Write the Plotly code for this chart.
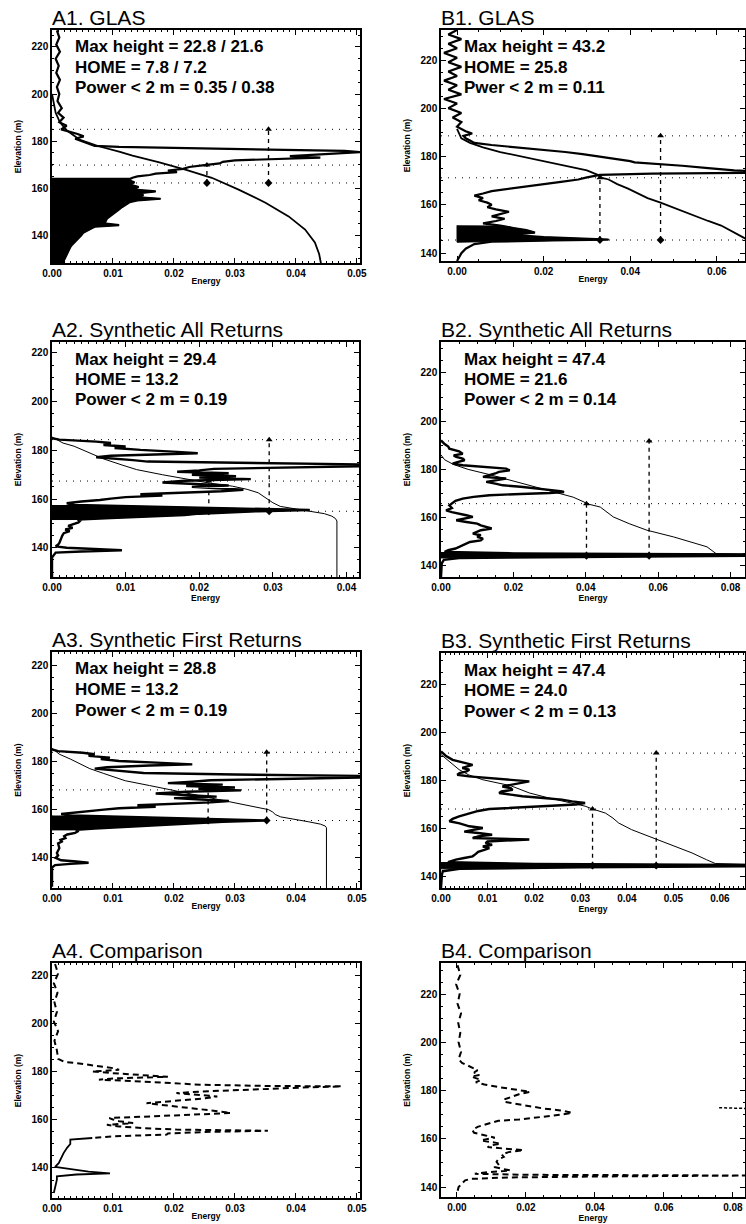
import plotly.graph_objects as go

W, H = 746, 1224

# ---------------- DATA (elevation m, energy) ----------------
A1_WAVE = [(227, 0.0008), (224, 0.0012), (221, 0.0007), (218, 0.0013), (215, 0.0006), (212, 0.0011),
           (209, 0.0007), (206, 0.0013), (203, 0.0008), (200, 0.0012), (197, 0.0009), (194, 0.0016),
           (192, 0.0010), (190, 0.0019), (188, 0.0012), (186.5, 0.0024), (185, 0.0015), (184, 0.0030),
           (183, 0.0042), (182, 0.0052), (181, 0.0038), (180, 0.0048), (179, 0.0060), (178, 0.0070),
           (177.5, 0.0110), (176.5, 0.0300), (175.8, 0.0480), (175.3, 0.0505), (174.8, 0.0470),
           (174.2, 0.0420), (173.6, 0.0390), (173.0, 0.0440), (172.4, 0.0360), (171.8, 0.0300),
           (171.2, 0.0280), (170.5, 0.0275), (169.8, 0.0250), (169.0, 0.0225), (168.2, 0.0215),
           (167.5, 0.0190), (166.8, 0.0205), (166.2, 0.0170), (165.6, 0.0160), (165.0, 0.0140),
           (164.4, 0.0132), (163.5, 0.0125), (162.5, 0.0135), (161.5, 0.0128), (160.5, 0.0142),
           (159.5, 0.0130), (158.6, 0.0170), (157.8, 0.0140), (157.0, 0.0150), (156.3, 0.0130),
           (155.5, 0.0178), (154.8, 0.0140), (154.0, 0.0127), (153.0, 0.0120), (152.0, 0.0115),
           (151.0, 0.0110), (150.0, 0.0105), (149.0, 0.0098), (148.0, 0.0095), (147.0, 0.0090),
           (146.0, 0.0088), (145.0, 0.0085), (144.3, 0.0110), (143.6, 0.0070), (143.0, 0.0065),
           (142.0, 0.0058), (141.0, 0.0051), (140.0, 0.0048), (139.0, 0.0044), (138.0, 0.0040),
           (137.0, 0.0036), (136.0, 0.0033), (135.0, 0.0030), (134.0, 0.0028), (133.0, 0.0026),
           (132.0, 0.0024), (131.0, 0.0022), (130.0, 0.0021), (129.0, 0.0019), (128.0, 0.0018)]
A1_CUM = [(200, 0.0), (192, 0.0006), (188, 0.0013), (184.6, 0.0024), (180.5, 0.0046), (177.7, 0.0078),
          (175.5, 0.0110), (173.8, 0.0132), (171.0, 0.0176), (167.8, 0.0220), (164.4, 0.0262),
          (159.4, 0.0306), (153.8, 0.0350), (148.0, 0.0388), (142.4, 0.0415), (136.9, 0.0431),
          (132.0, 0.0438), (128.0, 0.0441)]

B1_WAVE = [(232.5, 0.000), (230.6, -0.002), (228.7, 0.001), (226.8, -0.002), (224.9, 0.000),
           (223.0, -0.003), (221.0, 0.000), (219.1, -0.002), (217.2, 0.001), (215.3, -0.002),
           (213.4, 0.000), (211.5, -0.003), (209.6, 0.000), (207.7, -0.002), (205.8, 0.001),
           (203.9, -0.003), (202.0, 0.000), (200.1, -0.002), (198.1, 0.001), (196.2, -0.001),
           (194.3, 0.001), (192.4, 0.000), (190.5, 0.002), (189.6, 0.0035), (188.6, 0.0015),
           (187.6, 0.002), (186.7, 0.003), (185.7, 0.004), (184.8, 0.008), (183.8, 0.014),
           (182.9, 0.020), (181.9, 0.025), (181.0, 0.029), (180.0, 0.033), (179.1, 0.037),
           (178.1, 0.040), (177.6, 0.041), (177.1, 0.046), (176.2, 0.052), (175.2, 0.058),
           (174.3, 0.064), (173.8, 0.071), (173.3, 0.071), (172.9, 0.045), (172.4, 0.033),
           (171.4, 0.030), (170.5, 0.028), (169.5, 0.024), (168.6, 0.020), (167.6, 0.016),
           (166.7, 0.012), (165.7, 0.008), (164.7, 0.006), (163.8, 0.004), (162.8, 0.006),
           (161.9, 0.005), (160.9, 0.007), (160.0, 0.008), (159.0, 0.007), (158.1, 0.009),
           (157.1, 0.012), (156.1, 0.010), (155.2, 0.008), (154.2, 0.011), (153.3, 0.009),
           (152.3, 0.006), (151.4, 0.010), (150.4, 0.013), (149.5, 0.016), (148.5, 0.018),
           (147.6, 0.012), (146.6, 0.020), (146.0, 0.028), (145.6, 0.035), (145.2, 0.022),
           (144.7, 0.008), (143.7, 0.004), (142.8, 0.003), (141.8, 0.002), (139.9, 0.001),
           (136.7, 0.000)]
B1_CUM = [(191.5, 0.0), (187.6, 0.001), (185.7, 0.003), (183.8, 0.006), (181.9, 0.010), (180.0, 0.015),
          (178.1, 0.020), (176.2, 0.025), (174.3, 0.030), (172.4, 0.0325), (171.2, 0.0335),
          (170.5, 0.035), (168.6, 0.037), (166.7, 0.0395), (164.7, 0.042), (162.8, 0.044),
          (160.9, 0.047), (158.1, 0.051), (155.2, 0.055), (153.3, 0.058), (151.4, 0.061),
          (149.5, 0.063), (147.6, 0.065), (146.6, 0.066), (145.6, 0.067)]

A2_WAVE = [(185.0, 0.0000), (184.4, 0.0010), (183.6, 0.0060), (183.0, 0.0080), (182.2, 0.0070),
           (181.6, 0.0100), (181.0, 0.0085), (180.2, 0.0120), (179.4, 0.0170), (178.8, 0.0198),
           (178.3, 0.0140), (177.8, 0.0080), (177.2, 0.0060), (176.6, 0.0090), (176.0, 0.0110),
           (175.4, 0.0130), (174.8, 0.0250), (174.2, 0.0430), (173.6, 0.0440), (173.0, 0.0300),
           (172.4, 0.0220), (171.8, 0.0200), (171.2, 0.0170), (170.6, 0.0240), (170.0, 0.0190),
           (169.4, 0.0250), (168.8, 0.0200), (168.2, 0.0270), (167.5, 0.0180), (166.8, 0.0150),
           (166.2, 0.0200), (165.6, 0.0240), (165.0, 0.0190), (164.4, 0.0220), (163.8, 0.0260),
           (163.2, 0.0230), (162.6, 0.0180), (162.0, 0.0120), (161.4, 0.0150), (160.8, 0.0100),
           (160.2, 0.0080), (159.6, 0.0065), (159.0, 0.0040), (158.3, 0.0020), (157.6, 0.0030),
           (157.0, 0.0120), (156.5, 0.0220), (156.0, 0.0300), (155.5, 0.0350), (155.0, 0.0280),
           (154.5, 0.0240), (154.0, 0.0200), (153.4, 0.0180), (152.8, 0.0120), (152.2, 0.0080),
           (151.6, 0.0035), (151.0, 0.0038), (150.4, 0.0036), (149.7, 0.0030), (149.0, 0.0022),
           (148.2, 0.0028), (147.5, 0.0018), (146.8, 0.0024), (146.0, 0.0016), (145.0, 0.0014),
           (144.0, 0.0013), (143.0, 0.0012), (142.0, 0.0010), (141.2, 0.0008), (140.6, 0.0005),
           (140.0, 0.0020), (139.5, 0.0060), (139.0, 0.0095), (138.5, 0.0040), (138.0, 0.0005),
           (136.0, 0.0000), (128.0, 0.0000)]
A2_CUM = [(185.5, 0.0), (183.0, 0.0015), (181.7, 0.0030), (179.0, 0.0050), (176.5, 0.0070),
          (174.0, 0.0095), (172.1, 0.0115), (170.0, 0.0150), (168.0, 0.0185), (166.5, 0.0215),
          (165.3, 0.0245), (164.0, 0.0265), (162.6, 0.0280), (160.5, 0.0290), (158.5, 0.0300),
          (157.0, 0.0310), (156.0, 0.0330), (155.0, 0.0350), (154.0, 0.0370), (153.0, 0.0380),
          (152.0, 0.0385), (151.0, 0.0387), (128.0, 0.0387)]

A3_WAVE = [(185.0, 0.0000), (184.3, 0.0010), (183.6, 0.0050), (183.0, 0.0070), (182.3, 0.0060),
           (181.6, 0.0095), (181.0, 0.0080), (180.2, 0.0110), (179.4, 0.0180), (178.8, 0.0230),
           (178.3, 0.0160), (177.6, 0.0090), (177.0, 0.0070), (176.4, 0.0100), (175.8, 0.0120),
           (175.2, 0.0150), (174.6, 0.0300), (174.0, 0.0510), (173.4, 0.0520), (172.8, 0.0350),
           (172.2, 0.0260), (171.6, 0.0230), (171.0, 0.0190), (170.4, 0.0280), (169.8, 0.0220),
           (169.2, 0.0300), (168.6, 0.0240), (168.0, 0.0310), (167.4, 0.0220), (166.7, 0.0170),
           (166.0, 0.0230), (165.4, 0.0270), (164.8, 0.0200), (164.2, 0.0250), (163.6, 0.0290),
           (163.0, 0.0260), (162.4, 0.0200), (161.8, 0.0140), (161.2, 0.0170), (160.6, 0.0110),
           (160.0, 0.0085), (159.4, 0.0060), (158.8, 0.0035), (158.2, 0.0015), (157.6, 0.0030),
           (157.0, 0.0130), (156.5, 0.0230), (156.0, 0.0300), (155.5, 0.0350), (155.0, 0.0280),
           (154.5, 0.0240), (154.0, 0.0200), (153.4, 0.0170), (152.8, 0.0110), (152.2, 0.0070),
           (151.6, 0.0040), (151.0, 0.0042), (150.4, 0.0038), (149.7, 0.0025), (149.0, 0.0020),
           (148.2, 0.0022), (147.5, 0.0014), (146.8, 0.0016), (146.0, 0.0010), (144.0, 0.0012),
           (142.0, 0.0008), (141.0, 0.0010), (140.0, 0.0006), (139.0, 0.0015), (138.5, 0.0040),
           (138.0, 0.0060), (137.5, 0.0030), (137.0, 0.0005), (136.0, 0.0000), (128.0, 0.0000)]
A3_CUM = [(185.5, 0.0), (183.0, 0.0012), (181.0, 0.0030), (178.5, 0.0050), (177.0, 0.0062),
          (175.0, 0.0085), (172.0, 0.0120), (170.0, 0.0160), (168.0, 0.0200), (166.0, 0.0240),
          (164.0, 0.0275), (162.5, 0.0310), (161.0, 0.0340), (160.0, 0.0355), (159.0, 0.0362),
          (158.0, 0.0366), (157.0, 0.0375), (156.0, 0.0400), (155.0, 0.0420), (154.0, 0.0440),
          (153.2, 0.0448), (152.5, 0.0450), (128.0, 0.0450)]

B2_WAVE = [(192.0, 0.0000), (190.5, 0.0010), (189.5, 0.0020), (188.6, 0.0023), (187.5, 0.0050),
           (186.5, 0.0060), (185.8, 0.0035), (185.2, 0.0042), (184.5, 0.0060), (183.8, 0.0065),
           (183.0, 0.0045), (182.4, 0.0032), (181.7, 0.0060), (181.0, 0.0110), (180.3, 0.0180),
           (179.6, 0.0190), (179.0, 0.0160), (178.3, 0.0150), (177.6, 0.0130), (176.9, 0.0116),
           (176.2, 0.0180), (175.5, 0.0150), (174.8, 0.0125), (174.1, 0.0150), (173.4, 0.0171),
           (172.8, 0.0220), (172.2, 0.0260), (171.6, 0.0290), (171.0, 0.0330), (170.6, 0.0340),
           (170.2, 0.0300), (169.8, 0.0220), (169.3, 0.0134), (168.6, 0.0090), (167.9, 0.0060),
           (167.0, 0.0040), (166.0, 0.0030), (165.1, 0.0023), (164.0, 0.0030), (163.0, 0.0014),
           (162.3, 0.0030), (161.7, 0.0051), (161.0, 0.0070), (160.3, 0.0088), (159.6, 0.0060),
           (158.9, 0.0042), (158.2, 0.0070), (157.5, 0.0100), (156.8, 0.0110), (156.2, 0.0125),
           (155.5, 0.0140), (154.8, 0.0110), (154.1, 0.0100), (153.4, 0.0088), (152.7, 0.0110),
           (152.0, 0.0100), (151.3, 0.0116), (150.6, 0.0110), (149.9, 0.0080), (149.2, 0.0070),
           (148.6, 0.0060), (147.9, 0.0050), (147.2, 0.0040), (146.5, 0.0020), (145.8, 0.0010),
           (145.2, 0.0200), (144.7, 0.0900), (144.3, 0.0900), (143.8, 0.0300), (143.3, 0.0050),
           (142.5, 0.0008), (141.0, 0.0002), (135.4, 0.0000)]
B2_CUM = [(186.0, 0.0), (184.0, 0.0010), (182.0, 0.0035), (180.0, 0.0075), (178.0, 0.0130),
          (176.0, 0.0180), (174.0, 0.0230), (172.0, 0.0280), (170.2, 0.0330), (168.5, 0.0365),
          (166.5, 0.0395), (165.8, 0.0402), (164.4, 0.0440), (162.0, 0.0460), (160.3, 0.0476),
          (157.5, 0.0520), (154.8, 0.0569), (152.0, 0.0643), (147.9, 0.0735), (145.1, 0.0760),
          (144.6, 0.0900)]

B3_WAVE = [(192.3, 0.0000), (190.5, 0.0010), (188.8, 0.0025), (187.5, 0.0050), (186.7, 0.0068),
           (186.0, 0.0055), (185.4, 0.0046), (184.7, 0.0061), (184.0, 0.0055), (183.3, 0.0040),
           (182.6, 0.0035), (181.9, 0.0060), (181.2, 0.0110), (180.5, 0.0160), (179.8, 0.0190),
           (179.1, 0.0170), (178.4, 0.0150), (177.7, 0.0132), (177.0, 0.0150), (176.3, 0.0154),
           (175.6, 0.0130), (175.0, 0.0125), (174.3, 0.0150), (173.6, 0.0175), (172.9, 0.0220),
           (172.2, 0.0260), (171.5, 0.0282), (170.8, 0.0310), (170.2, 0.0290), (169.6, 0.0220),
           (168.9, 0.0140), (168.3, 0.0104), (167.5, 0.0080), (166.5, 0.0060), (165.2, 0.0039),
           (164.2, 0.0025), (163.2, 0.0018), (162.3, 0.0040), (161.1, 0.0061), (160.4, 0.0090),
           (159.7, 0.0068), (158.9, 0.0050), (158.3, 0.0080), (157.6, 0.0110), (156.9, 0.0080),
           (156.2, 0.0068), (155.6, 0.0190), (154.8, 0.0100), (154.1, 0.0096), (153.4, 0.0110),
           (152.7, 0.0090), (152.0, 0.0104), (151.4, 0.0095), (150.5, 0.0080), (149.6, 0.0075),
           (148.6, 0.0068), (147.9, 0.0050), (147.2, 0.0032), (146.2, 0.0015), (145.4, 0.0200),
           (145.0, 0.0700), (144.5, 0.0700), (144.0, 0.0300), (143.4, 0.0040), (142.4, 0.0004),
           (141.0, 0.0002), (135.4, 0.0000)]
B3_CUM = [(191.0, 0.0), (188.5, 0.0015), (186.0, 0.0030), (184.7, 0.0039), (182.5, 0.0060),
          (180.5, 0.0090), (178.0, 0.0150), (175.0, 0.0190), (173.0, 0.0230), (170.8, 0.0285),
          (169.5, 0.0310), (168.3, 0.0326), (166.6, 0.0354), (164.5, 0.0370), (162.5, 0.0382),
          (159.7, 0.0410), (157.5, 0.0440), (155.5, 0.0468), (153.0, 0.0500), (150.0, 0.0540),
          (147.2, 0.0571), (145.6, 0.0590), (145.0, 0.0700)]

A4_DIFF = [(225, 0.0005), (221, 0.0010), (217, 0.0003), (213, 0.0009), (209, 0.0004), (205, 0.0008),
           (201, 0.0003), (197, 0.0010), (193, 0.0004), (189, 0.0008), (185.5, 0.0010), (184.2, 0.0020),
           (183.7, 0.0040), (182.6, 0.0070), (181.6, 0.0100), (180.9, 0.0110), (180.2, 0.0066),
           (179.5, 0.0100), (178.8, 0.0150), (178.0, 0.0190), (177.3, 0.0100), (176.8, 0.0077),
           (176.0, 0.0150), (175.3, 0.0200), (174.7, 0.0243), (174.2, 0.0350), (174.0, 0.0475),
           (173.6, 0.0420), (173.0, 0.0354), (172.4, 0.0280), (171.8, 0.0240), (171.2, 0.0204),
           (170.5, 0.0240), (169.8, 0.0271), (169.0, 0.0250), (168.3, 0.0220), (167.5, 0.0180),
           (167.0, 0.0155), (166.0, 0.0190), (165.0, 0.0230), (164.0, 0.0260), (162.9, 0.0293),
           (162.0, 0.0200), (161.4, 0.0150), (160.8, 0.0094), (160.2, 0.0100), (159.5, 0.0110),
           (158.7, 0.0133), (158.0, 0.0090), (157.3, 0.0110), (156.6, 0.0150), (156.0, 0.0204),
           (155.5, 0.0354), (155.0, 0.0250), (154.4, 0.0190), (153.9, 0.0188), (153.2, 0.0100),
           (152.5, 0.0066), (151.8, 0.0030), (150.0, 0.0030), (148.5, 0.0025), (146.2, 0.0019),
           (144.0, 0.0015), (142.0, 0.0011), (140.5, 0.0005), (139.5, 0.0030), (138.5, 0.0060),
           (137.8, 0.0095), (137.3, 0.0040), (136.5, 0.0008), (135.1, 0.0008), (129.6, 0.0003)]

B4_DIFF = [(232, 0.0002), (228, 0.0010), (224, -0.0002), (220, 0.0008), (216, 0.0002), (212, 0.0012),
           (208, 0.0004), (204, 0.0010), (200, 0.0005), (196, 0.0012), (193, 0.0005), (191.5, 0.0015),
           (190.5, 0.0030), (189.5, 0.0045), (188.5, 0.0060), (187.5, 0.0050), (186.5, 0.0065),
           (185.8, 0.0042), (185.0, 0.0060), (184.4, 0.0070), (183.5, 0.0055), (182.5, 0.0080),
           (181.5, 0.0120), (180.5, 0.0170), (179.5, 0.0212), (178.5, 0.0180), (177.4, 0.0155),
           (176.5, 0.0140), (175.4, 0.0136), (174.5, 0.0170), (173.6, 0.0210), (172.6, 0.0250),
           (171.8, 0.0300), (170.8, 0.0334), (170.0, 0.0300), (169.0, 0.0240), (168.0, 0.0180),
           (167.5, 0.0120), (166.0, 0.0080), (165.0, 0.0060), (163.6, 0.0045), (162.5, 0.0050),
           (161.5, 0.0080), (160.5, 0.0110), (159.4, 0.0070), (158.5, 0.0100), (158.0, 0.0127),
           (157.3, 0.0100), (156.6, 0.0089), (155.8, 0.0150), (155.3, 0.0193), (154.5, 0.0150),
           (153.5, 0.0130), (152.5, 0.0136), (151.5, 0.0120), (150.5, 0.0115), (149.5, 0.0120),
           (148.3, 0.0108), (147.5, 0.0130), (146.9, 0.0155), (146.2, 0.0090), (145.5, 0.0052),
           (145.1, 0.0200), (144.8, 0.0850), (144.4, 0.0400), (144.0, 0.0150), (143.4, 0.0040),
           (142.8, 0.0024), (141.5, 0.0015), (140.0, 0.0005), (137.2, 0.0000)]
B4_GLAS_PEAK = [(172.9, 0.0760), (172.7, 0.0800), (172.6, 0.0840)]

# reference elevations: (top of canopy, HOME, ground)
A1_LEVELS = [185.0, 169.8, 162.2]
B1_LEVELS = [188.6, 171.2, 145.4]
A2_LEVELS = [184.4, 167.4, 155.0]
B2_LEVELS = [191.8, 165.8, 144.2]
A3_LEVELS = [183.8, 168.2, 155.5]
B3_LEVELS = [191.6, 168.3, 144.7]
# energy positions of vertical markers (HOME line, max-height line)
A1_MARK_X = [0.0254, 0.0355]
B1_MARK_X = [0.0330, 0.0470]
A2_MARK_X = [0.0213, 0.0295]
B2_MARK_X = [0.0402, 0.0575]
A3_MARK_X = [0.0256, 0.0352]
B3_MARK_X = [0.0326, 0.0463]

TITLES = ["A1. GLAS", "B1. GLAS", "A2. Synthetic All Returns", "B2. Synthetic All Returns",
          "A3. Synthetic First Returns", "B3. Synthetic First Returns", "A4. Comparison", "B4. Comparison"]
STATS = {
    1: ["Max height = 22.8 / 21.6", "HOME = 7.8 / 7.2", "Power < 2 m = 0.35 / 0.38"],
    2: ["Max height = 43.2", "HOME = 25.8", "Pwer < 2 m = 0.11"],
    3: ["Max height = 29.4", "HOME = 13.2", "Power < 2 m = 0.19"],
    4: ["Max height = 47.4", "HOME = 21.6", "Power < 2 m = 0.14"],
    5: ["Max height = 28.8", "HOME = 13.2", "Power < 2 m = 0.19"],
    6: ["Max height = 47.4", "HOME = 24.0", "Power < 2 m = 0.13"],
}

# ---------------- LAYOUT GEOMETRY ----------------
PANELS = {
    1: dict(box=(52, 30, 360, 263), xr=[0, 0.0505], yr=[128.2, 227.2], dx=0.01, mx=0.001),
    2: dict(box=(441, 30, 745, 261), xr=[-0.0037, 0.0665], yr=[136.7, 232.5], dx=0.02, mx=0.005),
    3: dict(box=(52, 342, 359, 577), xr=[0, 0.0417], yr=[128.0, 224.5], dx=0.01, mx=0.001),
    4: dict(box=(441, 342, 745, 577), xr=[0, 0.084], yr=[135.4, 232.8], dx=0.02, mx=0.005),
    5: dict(box=(52, 652, 360, 888), xr=[0, 0.0505], yr=[127.5, 225.4], dx=0.01, mx=0.001),
    6: dict(box=(441, 653, 745, 888), xr=[0, 0.0654], yr=[135.4, 233.3], dx=0.01, mx=0.001),
    7: dict(box=(52, 963, 360, 1198), xr=[0, 0.0505], yr=[127.5, 225.4], dx=0.01, mx=0.001),
    8: dict(box=(441, 963, 745, 1197), xr=[-0.0046, 0.0835], yr=[135.9, 232.9], dx=0.02, mx=0.005),
}

FONT = "Liberation Sans, Arial, Helvetica, sans-serif"

fig = go.Figure()


def axn(i):
    return ("x" if i == 1 else f"x{i}"), ("y" if i == 1 else f"y{i}")


def line_trace(i, pairs, width, dash="solid", fill=None, color="black"):
    xa, ya = axn(i)
    fig.add_trace(go.Scatter(
        x=[p[1] for p in pairs], y=[p[0] for p in pairs], mode="lines",
        line=dict(color=color, width=width, dash=dash), fill=fill, fillcolor="black",
        xaxis=xa, yaxis=ya, showlegend=False, hoverinfo="skip", cliponaxis=True))


def sub(pairs, lo, hi):
    return [p for p in pairs if lo <= p[0] <= hi]


line_trace(1, sub(A1_WAVE, 128, 164.4) + [(128, 0.0), (164.4, 0.0)], 1, fill="toself")
line_trace(1, A1_WAVE, 2.2)
line_trace(1, A1_CUM, 1.8)

line_trace(2, sub(B1_WAVE, 144.5, 151.5) + [(144.5, 0.0), (151.5, 0.0)], 1, fill="toself")
line_trace(2, B1_WAVE, 2.2)
line_trace(2, B1_CUM, 1.8)

line_trace(3, sub(A2_WAVE, 151.6, 157.6) + [(151.6, 0.0), (157.6, 0.0)], 1, fill="toself")
line_trace(3, A2_WAVE, 2.4)
line_trace(3, A2_CUM, 1.0)

line_trace(5, sub(A3_WAVE, 151.6, 157.6) + [(151.6, 0.0), (157.6, 0.0)], 1, fill="toself")
line_trace(5, A3_WAVE, 2.4)
line_trace(5, A3_CUM, 1.0)

line_trace(4, sub(B2_WAVE, 143.3, 145.8) + [(143.3, 0.0), (145.8, 0.0)], 1, fill="toself")
line_trace(4, B2_WAVE, 2.4)
line_trace(4, B2_CUM, 1.0)

line_trace(6, sub(B3_WAVE, 143.4, 146.2) + [(143.4, 0.0), (146.2, 0.0)], 1, fill="toself")
line_trace(6, B3_WAVE, 2.4)
line_trace(6, B3_CUM, 1.0)

line_trace(7, sub(A4_DIFF, 152.5, 230), 2.0, dash="6px,4px")
line_trace(7, sub(A4_DIFF, 120, 152.5), 1.8)
line_trace(8, B4_DIFF, 2.0, dash="6px,4px")
line_trace(8, B4_GLAS_PEAK, 1.5, dash="3px,2px")

shapes = []
for i, lv, mk in [(1, A1_LEVELS, A1_MARK_X), (2, B1_LEVELS, B1_MARK_X), (3, A2_LEVELS, A2_MARK_X),
                  (4, B2_LEVELS, B2_MARK_X), (5, A3_LEVELS, A3_MARK_X), (6, B3_LEVELS, B3_MARK_X)]:
    xa, ya = axn(i)
    for e in lv:
        shapes.append(dict(type="line", xref=f"{xa} domain", yref=ya, x0=0, x1=1, y0=e, y1=e,
                           line=dict(color="black", width=1, dash="1px,6px")))
    top, home, ground = lv
    for xv, ytop in [(mk[0], home), (mk[1], top)]:
        fig.add_trace(go.Scatter(x=[xv, xv], y=[ground, ytop], mode="lines",
                                 line=dict(color="black", width=1.3, dash="4px,4px"),
                                 xaxis=xa, yaxis=ya, showlegend=False, hoverinfo="skip"))
    fig.add_trace(go.Scatter(x=[mk[1], mk[0]], y=[top, home], mode="markers",
                             marker=dict(symbol="triangle-up", size=6, color="black"),
                             xaxis=xa, yaxis=ya, showlegend=False, hoverinfo="skip"))
    fig.add_trace(go.Scatter(x=[mk[0], mk[1]], y=[ground, ground], mode="markers",
                             marker=dict(symbol="diamond", size=6, color="black"),
                             xaxis=xa, yaxis=ya, showlegend=False, hoverinfo="skip"))

layout = dict(width=W, height=H, margin=dict(l=0, r=0, t=0, b=0),
              plot_bgcolor="white", paper_bgcolor="white", showlegend=False, shapes=shapes)
annotations = []
for i, p in PANELS.items():
    l, t, r, b = p["box"]
    xa, ya = axn(i)
    xk = "xaxis" if i == 1 else f"xaxis{i}"
    yk = "yaxis" if i == 1 else f"yaxis{i}"
    tickfont = dict(family=FONT, size=10, color="black", weight="bold")
    layout[xk] = dict(domain=[l / W, r / W], anchor=ya, range=p["xr"], dtick=p["dx"], tick0=0,
                      tickformat=".2f", ticks="inside", ticklen=5, tickwidth=1, tickcolor="black",
                      minor=dict(dtick=p["mx"], tick0=0, ticks="inside", ticklen=2.5, tickcolor="black"),
                      showline=True, linecolor="black", linewidth=1.5, mirror="allticks",
                      showgrid=False, zeroline=False, tickfont=tickfont, automargin=False,
                      title=dict(text="Energy", font=dict(family=FONT, size=8.5, color="black", weight="bold"),
                                 standoff=0))
    layout[yk] = dict(domain=[1 - b / H, 1 - t / H], anchor=xa, range=p["yr"], dtick=20, tick0=0,
                      ticks="inside", ticklen=5, tickwidth=1, tickcolor="black",
                      minor=dict(dtick=5, tick0=0, ticks="inside", ticklen=2.5, tickcolor="black"),
                      showline=True, linecolor="black", linewidth=1.5, mirror="allticks",
                      showgrid=False, zeroline=False, tickfont=tickfont, automargin=False,
                      title=dict(text="Elevation (m)", font=dict(family=FONT, size=8.5, color="black", weight="bold"),
                                 standoff=9))
    annotations.append(dict(text=TITLES[i - 1], xref="paper", yref="paper", x=(l - 2) / W,
                            y=1 - (t + 1) / H, xanchor="left", yanchor="bottom", showarrow=False,
                            font=dict(family=FONT, size=21, color="black")))
    if i in STATS:
        for k, s in enumerate(STATS[i]):
            annotations.append(dict(text=s, xref="paper", yref="paper", x=(l + 21) / W,
                                    y=1 - (t + 17 + 20.5 * k) / H, xanchor="left", yanchor="middle",
                                    showarrow=False,
                                    font=dict(family=FONT, size=17, color="black", weight="bold")))
layout["annotations"] = annotations
fig.update_layout(**layout)
fig.write_html("out.html")
